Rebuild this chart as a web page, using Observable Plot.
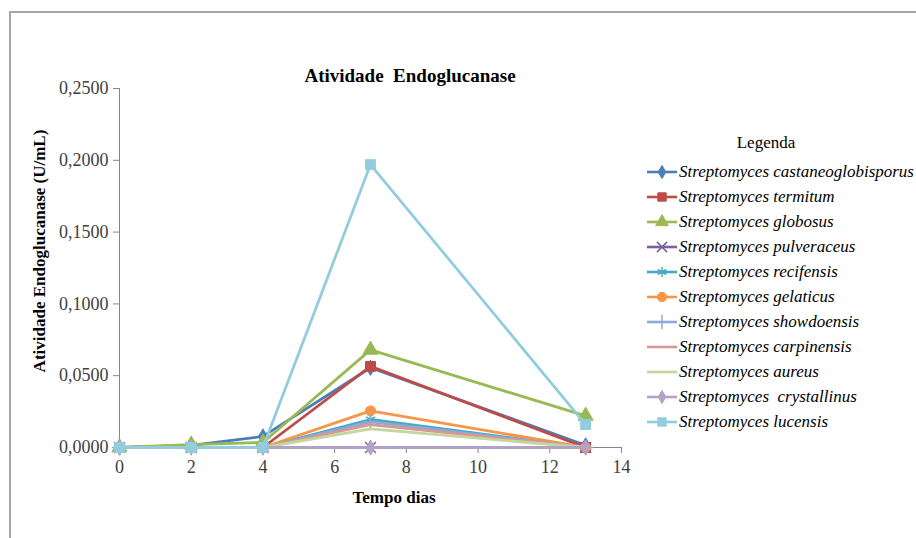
<!DOCTYPE html>
<html><head><meta charset="utf-8">
<script src="https://cdn.jsdelivr.net/npm/d3@7"></script>
<script src="https://cdn.jsdelivr.net/npm/@observablehq/plot@0.6"></script>
<style>
body{margin:0;background:#fff;}
#wrap{position:relative;width:916px;height:538px;font-family:"Liberation Serif","Times New Roman",serif;color:#000;overflow:hidden;}
#wrap svg.plot{position:absolute;left:0;top:0;}
.frame{position:absolute;left:9px;top:11px;width:920px;height:540px;border-top:2px solid #a6a6a6;border-left:2px solid #a6a6a6;}
.lbl{position:absolute;white-space:pre;transform:translate(-50%,-50%);font-weight:bold;}
.legend{position:absolute;left:645px;top:0;}
.legrow{position:absolute;left:0;height:24px;display:flex;align-items:center;white-space:pre;font-style:italic;font-size:17px;}
</style></head><body><div id="wrap"></div>
<script>
// ---- data ----
const days = [0, 2, 4, 7, 13];
const seriesNames = [
  "Streptomyces castaneoglobisporus",
  "Streptomyces termitum",
  "Streptomyces globosus",
  "Streptomyces pulveraceus",
  "Streptomyces recifensis",
  "Streptomyces gelaticus",
  "Streptomyces showdoensis",
  "Streptomyces carpinensis",
  "Streptomyces aureus",
  "Streptomyces  crystallinus",
  "Streptomyces lucensis"
];
const castaneoglobisporus = [0, 0.0015, 0.0077, 0.0555, 0.0015];
const termitum            = [0, 0, 0, 0.0565, 0];
const globosus            = [0, 0.002, 0.0035, 0.068, 0.022];
const pulveraceus         = [0, 0, 0, 0, 0];
const recifensis          = [0, 0, 0, 0.0195, 0];
const gelaticus           = [0, 0, 0, 0.0255, 0];
const showdoensis         = [0, 0, 0, 0.0178, 0];
const carpinensis         = [0, 0, 0, 0.016, 0];
const aureus              = [0, 0, 0, 0.013, 0];
const crystallinus        = [0, 0, 0, 0, 0];
const lucensis            = [0, 0, 0, 0.197, 0.016];
const seriesValues = [castaneoglobisporus, termitum, globosus, pulveraceus, recifensis,
  gelaticus, showdoensis, carpinensis, aureus, crystallinus, lucensis];
const xTicks = [0, 2, 4, 6, 8, 10, 12, 14];
const yTicks = [0, 0.05, 0.10, 0.15, 0.20, 0.25];
const chartTitle = "Atividade  Endoglucanase";
const xTitle = "Tempo dias";
const yTitle = "Atividade Endoglucanase (U/mL)";
const legendTitle = "Legenda";

// ---- styles ----
const colors = ["#4A7EBB","#BE4B48","#98B954","#7D60A0","#46AAC5","#F79646",
  "#8DAAD6","#DA9694","#C3D69B","#B3A2C7","#93CDDD"];
const symbols = ["diamond","square","triangle","times","asterisk","circle","plus",null,null,"diamond","square"];
const strokeSymbols = new Set(["times","asterisk","plus"]);
const symbolR = {diamond: 4.6, square: 5.6, triangle: 5.6, times: 5, asterisk: 5, circle: 5, plus: 5};

const rows = [];
seriesValues.forEach((vals, i) => days.forEach((d, j) => rows.push({series: seriesNames[i], idx: i, day: d, value: vals[j]})));

const fmt = v => d3.format(".4f")(v).replace(".", ",");

const marks = [
  Plot.ruleY([0], {stroke: "#868686", strokeWidth: 1}),
  Plot.ruleX([0], {stroke: "#868686", strokeWidth: 1}),
  Plot.axisY({ticks: yTicks, tickFormat: fmt, tickSize: 6, tickPadding: 5, stroke: "#868686", fill: "#404040", fontSize: 18, label: null}),
  Plot.axisX({ticks: xTicks, tickFormat: d => String(d), tickSize: 6, tickPadding: 7, stroke: "#868686", fill: "#404040", fontSize: 18, label: null})
];
seriesNames.forEach((name, i) => {
  const data = rows.filter(r => r.idx === i);
  marks.push(Plot.line(data, {x: "day", y: "value", stroke: colors[i], strokeWidth: 2.8}));
  const s = symbols[i];
  if (s) {
    const isStroke = strokeSymbols.has(s);
    marks.push(Plot.dot(data, {x: "day", y: "value", symbol: () => s,
      r: symbolR[s],
      fill: isStroke ? "none" : colors[i], stroke: colors[i], strokeWidth: isStroke ? 1.5 : 1}));
  }
});

const chart = Plot.plot({
  width: 916, height: 538,
  marginLeft: 119, marginRight: 295, marginTop: 88, marginBottom: 91,
  x: {domain: [0, 14]},
  y: {domain: [0, 0.25]},
  style: {fontFamily: "'Liberation Serif','Times New Roman',serif", background: "transparent", overflow: "visible"},
  marks
});
chart.classList.add("plot");
const wrap = document.getElementById("wrap");
wrap.appendChild(chart);

const frame = document.createElement("div"); frame.className = "frame"; wrap.appendChild(frame);

function addLabel(text, x, y, size, extra) {
  const el = document.createElement("div");
  el.className = "lbl"; el.textContent = text;
  el.style.left = x + "px"; el.style.top = y + "px"; el.style.fontSize = size + "px";
  if (extra) el.style.transform = extra;
  wrap.appendChild(el);
  return el;
}
addLabel(chartTitle, 410, 76, 19);
addLabel(xTitle, 394, 498, 17);
addLabel(yTitle, 40, 251, 17, "translate(-50%,-50%) rotate(-90deg)");
const lt = addLabel(legendTitle, 766, 143, 17); lt.style.fontWeight = "normal";

// legend
const legend = document.createElement("div"); legend.className = "legend"; wrap.appendChild(legend);
seriesNames.forEach((name, i) => {
  const row = document.createElement("div"); row.className = "legrow";
  row.style.top = (171.7 + 25 * i - 12) + "px";
  const ns = "http://www.w3.org/2000/svg";
  const svg = document.createElementNS(ns, "svg");
  svg.setAttribute("width", 34); svg.setAttribute("height", 20);
  svg.style.overflow = "visible";
  const ln = document.createElementNS(ns, "line");
  ln.setAttribute("x1", 2); ln.setAttribute("x2", 32); ln.setAttribute("y1", 10); ln.setAttribute("y2", 10);
  ln.setAttribute("stroke", colors[i]); ln.setAttribute("stroke-width", 2.6);
  svg.appendChild(ln);
  const s = symbols[i];
  if (s) {
    const symMap = {diamond: d3.symbolDiamond, square: d3.symbolSquare, triangle: d3.symbolTriangle,
      times: d3.symbolTimes, asterisk: d3.symbolAsterisk, circle: d3.symbolCircle, plus: d3.symbolPlus};
    const p = document.createElementNS(ns, "path");
    p.setAttribute("d", d3.symbol(symMap[s], s === "diamond" ? 50 : 70)());
    p.setAttribute("transform", "translate(17,10)");
    const isStroke = strokeSymbols.has(s);
    p.setAttribute("fill", isStroke ? "none" : colors[i]);
    p.setAttribute("stroke", colors[i]); p.setAttribute("stroke-width", isStroke ? 1.5 : 1);
    svg.appendChild(p);
  }
  row.appendChild(svg);
  const t = document.createElement("span"); t.textContent = name;
  row.appendChild(t);
  legend.appendChild(row);
});
</script></body></html>
